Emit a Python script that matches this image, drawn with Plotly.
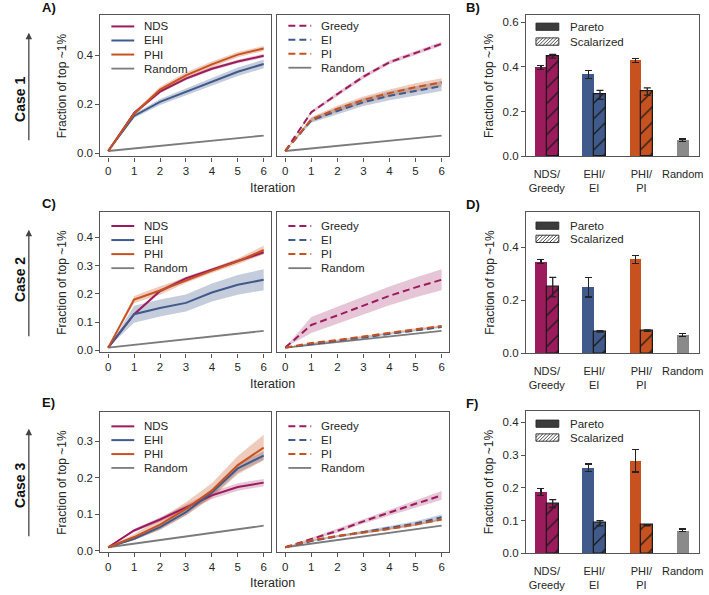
import plotly.graph_objects as go

W, H = 709, 595
def fx(x): return x / W
def fy(y): return 1 - y / H

FONT = "Liberation Sans, Arial, sans-serif"
C_NDS = '#9c1b5d'
C_EHI = '#3f5a8b'
C_PHI = '#c8521f'
C_RND = '#7b7b7b'
C_RNDBAR = '#8a8a8a'
B_NDS = 'rgba(156,27,93,0.25)'
B_EHI = 'rgba(63,90,139,0.30)'
B_PHI = 'rgba(200,82,31,0.30)'

iterations = [0, 1, 2, 3, 4, 5, 6]

# ---------------- Case 1 ----------------
c1_nds = [0.01, 0.165, 0.252, 0.305, 0.345, 0.375, 0.398]
c1_nds_err = [0, 0.006, 0.007, 0.007, 0.007, 0.007, 0.008]
c1_ehi = [0.01, 0.153, 0.21, 0.25, 0.292, 0.333, 0.365]
c1_ehi_err = [0, 0.008, 0.012, 0.014, 0.016, 0.017, 0.018]
c1_phi = [0.01, 0.162, 0.26, 0.318, 0.363, 0.403, 0.428]
c1_phi_err = [0, 0.008, 0.012, 0.013, 0.012, 0.011, 0.01]
c1_rand = [0.01, 0.021, 0.031, 0.042, 0.052, 0.063, 0.073]
c1_greedy = [0.01, 0.168, 0.242, 0.313, 0.372, 0.41, 0.447]
c1_greedy_err = [0, 0.006, 0.008, 0.008, 0.008, 0.008, 0.008]
c1_ei = [0.01, 0.135, 0.173, 0.209, 0.235, 0.256, 0.275]
c1_ei_err = [0, 0.01, 0.014, 0.016, 0.018, 0.019, 0.02]
c1_pi = [0.01, 0.139, 0.182, 0.218, 0.246, 0.27, 0.29]
c1_pi_err = [0, 0.01, 0.012, 0.014, 0.015, 0.016, 0.017]

# ---------------- Case 2 ----------------
c2_nds = [0.01, 0.128, 0.21, 0.255, 0.285, 0.317, 0.347]
c2_nds_err = [0, 0.005, 0.006, 0.006, 0.006, 0.006, 0.007]
c2_ehi = [0.01, 0.128, 0.15, 0.168, 0.205, 0.232, 0.25]
c2_ehi_err = [0, 0.03, 0.03, 0.03, 0.032, 0.035, 0.037]
c2_phi = [0.01, 0.18, 0.212, 0.248, 0.282, 0.315, 0.355]
c2_phi_err = [0, 0.012, 0.015, 0.01, 0.008, 0.01, 0.015]
c2_rand = [0.01, 0.02, 0.03, 0.04, 0.049, 0.059, 0.069]
c2_greedy = [0.01, 0.09, 0.124, 0.158, 0.193, 0.223, 0.25]
c2_greedy_err = [0, 0.028, 0.03, 0.032, 0.033, 0.035, 0.037]
c2_ei = [0.01, 0.023, 0.034, 0.046, 0.058, 0.07, 0.083]
c2_ei_err = [0, 0.002, 0.002, 0.003, 0.003, 0.003, 0.003]
c2_pi = [0.01, 0.026, 0.037, 0.05, 0.062, 0.075, 0.086]
c2_pi_err = [0, 0.002, 0.002, 0.003, 0.003, 0.003, 0.003]

# ---------------- Case 3 ----------------
c3_nds = [0.01, 0.056, 0.086, 0.119, 0.152, 0.175, 0.187]
c3_nds_err = [0, 0.004, 0.006, 0.008, 0.01, 0.01, 0.01]
c3_ehi = [0.01, 0.033, 0.065, 0.106, 0.16, 0.226, 0.261]
c3_ehi_err = [0, 0.004, 0.006, 0.008, 0.01, 0.012, 0.012]
c3_phi = [0.01, 0.038, 0.072, 0.115, 0.165, 0.235, 0.283]
c3_phi_err = [0, 0.008, 0.015, 0.018, 0.02, 0.025, 0.035]
c3_rand = [0.01, 0.02, 0.03, 0.039, 0.049, 0.059, 0.069]
c3_greedy = [0.01, 0.033, 0.055, 0.081, 0.106, 0.129, 0.152]
c3_greedy_err = [0, 0.003, 0.005, 0.006, 0.008, 0.01, 0.012]
c3_ei = [0.01, 0.027, 0.04, 0.051, 0.062, 0.075, 0.092]
c3_ei_err = [0, 0.002, 0.003, 0.004, 0.005, 0.006, 0.008]
c3_pi = [0.01, 0.029, 0.041, 0.05, 0.06, 0.072, 0.086]
c3_pi_err = [0, 0.002, 0.002, 0.003, 0.003, 0.003, 0.003]

# ---------------- Bars ----------------
bar_labels = ['NDS/<br>Greedy', 'EHI/<br>EI', 'PHI/<br>PI', 'Random']
c1_pareto = [0.397, 0.365, 0.428, 0.073]
c1_pareto_err = [0.010, 0.018, 0.009, 0.005]
c1_scal = [0.447, 0.275, 0.290]
c1_scal_err = [0.008, 0.020, 0.016]
c2_pareto = [0.347, 0.250, 0.355, 0.070]
c2_pareto_err = [0.007, 0.037, 0.015, 0.005]
c2_scal = [0.250, 0.083, 0.086]
c2_scal_err = [0.037, 0.003, 0.003]
c3_pareto = [0.187, 0.261, 0.283, 0.070]
c3_pareto_err = [0.010, 0.012, 0.035, 0.004]
c3_scal = [0.152, 0.092, 0.086]
c3_scal_err = [0.012, 0.008, 0.002]

cases = [
    dict(pareto=[c1_nds, c1_ehi, c1_phi], pareto_err=[c1_nds_err, c1_ehi_err, c1_phi_err],
         scal=[c1_greedy, c1_ei, c1_pi], scal_err=[c1_greedy_err, c1_ei_err, c1_pi_err], rand=c1_rand,
         bp=c1_pareto, bpe=c1_pareto_err, bs=c1_scal, bse=c1_scal_err,
         line_yr=[-0.012, 0.565], line_tv=[0, 0.2, 0.4], bar_yr=[0, 0.63], bar_tv=[0, 0.2, 0.4, 0.6],
         top=15, bot=158, btop=15.5, bbot=158,
         leg_l=[26.7, 40.9, 55.1, 69.3], leg_r=[26, 40.2, 54.4, 68.4], bleg=[27, 42],
         letters=[('A)', 40, 8), ('B)', 467, 8)], case='Case 1', case_y=100, arrow=(33, 142), it_y=190),
    dict(pareto=[c2_nds, c2_ehi, c2_phi], pareto_err=[c2_nds_err, c2_ehi_err, c2_phi_err],
         scal=[c2_greedy, c2_ei, c2_pi], scal_err=[c2_greedy_err, c2_ei_err, c2_pi_err], rand=c2_rand,
         bp=c2_pareto, bpe=c2_pareto_err, bs=c2_scal, bse=c2_scal_err,
         line_yr=[-0.007, 0.49], line_tv=[0, 0.1, 0.2, 0.3, 0.4], bar_yr=[0, 0.534], bar_tv=[0, 0.2, 0.4],
         top=214, bot=356, btop=214, bbot=357,
         leg_l=[228.3, 242.5, 256.7, 270.9], leg_r=[228.3, 242.5, 256.7, 270.9], bleg=[228, 241.3],
         letters=[('C)', 40, 206), ('D)', 467, 207)], case='Case 2', case_y=282, arrow=(232, 340), it_y=388),
    dict(pareto=[c3_nds, c3_ehi, c3_phi], pareto_err=[c3_nds_err, c3_ehi_err, c3_phi_err],
         scal=[c3_greedy, c3_ei, c3_pi], scal_err=[c3_greedy_err, c3_ei_err, c3_pi_err], rand=c3_rand,
         bp=c3_pareto, bpe=c3_pareto_err, bs=c3_scal, bse=c3_scal_err,
         line_yr=[-0.004, 0.381], line_tv=[0, 0.1, 0.2, 0.3], bar_yr=[0, 0.435], bar_tv=[0, 0.1, 0.2, 0.3, 0.4],
         top=416, bot=558, btop=415, bbot=559,
         leg_l=[430.7, 444.6, 458.7, 472.7], leg_r=[430.7, 444.6, 458.7, 472.7], bleg=[428, 442],
         letters=[('E)', 40, 407), ('F)', 467, 408)], case='Case 3', case_y=490, arrow=(433, 542), it_y=589),
]

pareto_names = ['NDS', 'EHI', 'PHI']
scal_names = ['Greedy', 'EI', 'PI']
line_cols = [C_NDS, C_EHI, C_PHI]
band_cols = [B_NDS, B_EHI, B_PHI]

LEFT = (101, 273)
RIGHT = (279, 452)
BAR = (529, 703)
AXC = '#555555'
TXT = '#262626'

fig = go.Figure()
layout = {}
shapes = []
annotations = []

def ax(n):
    return '' if n == 1 else str(n)

def axis_common():
    return dict(showline=True, mirror=True, linecolor=AXC, linewidth=1.2, showgrid=False,
                zeroline=False, ticks='outside', ticklen=4, tickwidth=1.1, tickcolor=AXC,
                tickfont=dict(family=FONT, size=11.5, color=TXT))

def add_band(n, y, e, col):
    up = [a + b for a, b in zip(y, e)]
    lo = [a - b for a, b in zip(y, e)]
    fig.add_trace(go.Scatter(x=iterations + iterations[::-1], y=up + lo[::-1], fill='toself',
                             fillcolor=col, line=dict(width=0), mode='lines', hoverinfo='skip',
                             showlegend=False, xaxis='x' + ax(n), yaxis='y' + ax(n)))

def add_line(n, y, col, dash='solid', width=2.0):
    fig.add_trace(go.Scatter(x=iterations, y=y, mode='lines', line=dict(color=col, width=width, dash=dash),
                             showlegend=False, xaxis='x' + ax(n), yaxis='y' + ax(n)))

DASH = '7px,4px'

for r, c in enumerate(cases):
    nl, nr, nb = 3 * r + 1, 3 * r + 2, 3 * r + 3
    # ---- line panels ----
    for n, series, errs, names, xs, legy, dash in [
        (nl, c['pareto'], c['pareto_err'], pareto_names, LEFT, c['leg_l'], 'solid'),
        (nr, c['scal'], c['scal_err'], scal_names, RIGHT, c['leg_r'], DASH)]:
        for y, e, bc in zip(series, errs, band_cols):
            add_band(n, y, e, bc)
        add_line(n, c['rand'], C_RND, width=1.8)
        for y, lc in zip(series, line_cols):
            add_line(n, y, lc, dash=dash)
        xa = axis_common()
        xa.update(domain=[fx(xs[0]), fx(xs[1])], anchor='y' + ax(n), range=[-0.3, 6.3],
                  tickvals=iterations)
        ya = axis_common()
        ya.update(domain=[fy(c['bot']), fy(c['top'])], anchor='x' + ax(n), range=c['line_yr'],
                  tickvals=c['line_tv'], tickformat='.1f')
        if n == nr:
            ya.update(ticks='', showticklabels=False)
        layout['xaxis' + ax(n)] = xa
        layout['yaxis' + ax(n)] = ya
        # legend (manual)
        for i, (lab, lc) in enumerate(zip(names + ['Random'], line_cols + [C_RND])):
            yy = legy[i]
            shapes.append(dict(type='line', xref='paper', yref='paper',
                               x0=fx(xs[0] + 11), x1=fx(xs[0] + 34), y0=fy(yy), y1=fy(yy),
                               line=dict(color=lc, width=2 if i < 3 else 1.8,
                                         dash=(dash if i < 3 else 'solid'))))
            annotations.append(dict(text=lab, x=fx(xs[0] + 42), y=fy(yy), xref='paper', yref='paper',
                                    xanchor='left', yanchor='middle', showarrow=False,
                                    font=dict(family=FONT, size=11.5, color=TXT)))
    # ---- bar panel ----
    off = 0.125
    groups = [0, 1, 2, 3]
    px_pos = [g - off for g in groups]
    sx_pos = [g + off for g in groups[:3]]
    tick_pos = groups[:3] + [groups[3] - off]
    fig.add_trace(go.Bar(x=px_pos, y=c['bp'], width=0.25,
                         marker=dict(color=[C_NDS, C_EHI, C_PHI, C_RNDBAR], line=dict(width=0)),
                         error_y=dict(type='data', array=c['bpe'], color='#222222', thickness=1.3, width=3.5),
                         showlegend=False, xaxis='x' + ax(nb), yaxis='y' + ax(nb)))
    for xv, yv, ev, col in zip(sx_pos, c['bs'], c['bse'], line_cols):
        fig.add_trace(go.Bar(x=[xv], y=[yv], width=0.25,
                             marker=dict(color=col, line=dict(width=1.3, color='#1a1a1a'),
                                         pattern=dict(shape='/', fgcolor='#1a1a1a', bgcolor=col,
                                                      fillmode='replace', fgopacity=1,
                                                      size=11, solidity=0.12)),
                             error_y=dict(type='data', array=[ev], color='#222222', thickness=1.3, width=3.5),
                             showlegend=False, xaxis='x' + ax(nb), yaxis='y' + ax(nb)))
    xa = axis_common()
    xa.update(domain=[fx(BAR[0]), fx(BAR[1])], anchor='y' + ax(nb), range=[-0.44, 3.22],
              tickvals=tick_pos, ticktext=bar_labels, ticks='', ticklabelstandoff=7,
              ticklabeloverflow='allow')
    xa['tickfont'] = dict(family=FONT, size=11, color=TXT)
    ya = axis_common()
    ya.update(domain=[fy(c['bbot']), fy(c['btop'])], anchor='x' + ax(nb), range=c['bar_yr'],
              tickvals=c['bar_tv'], tickformat='.1f')
    layout['xaxis' + ax(nb)] = xa
    layout['yaxis' + ax(nb)] = ya
    # bar legend (manual)
    by0, by1 = c['bleg']
    shapes.append(dict(type='rect', xref='paper', yref='paper', x0=fx(539), x1=fx(562),
                       y0=fy(by0 - 3.7), y1=fy(by0 + 3.7), fillcolor='#3c3c3c', line=dict(width=0.8, color='#222')))
    shapes.append(dict(type='rect', xref='paper', yref='paper', x0=fx(539), x1=fx(562),
                       y0=fy(by1 - 3.7), y1=fy(by1 + 3.7), fillcolor='white', line=dict(width=0.9, color='#222')))
    path = ''
    xs0 = 539 - 7.4
    while xs0 < 562:
        xa0, ya0 = xs0, by1 + 3.7
        xa1, ya1 = xs0 + 7.4, by1 - 3.7
        if xa0 < 539:
            ya0 = ya0 - (539 - xa0); xa0 = 539
        if xa1 > 562:
            ya1 = ya1 + (xa1 - 562); xa1 = 562
        path += f'M {fx(xa0)} {fy(ya0)} L {fx(xa1)} {fy(ya1)} '
        xs0 += 3.5
    shapes.append(dict(type='path', xref='paper', yref='paper', path=path, line=dict(width=0.8, color='#222')))
    for lab, yy in [('Pareto', by0), ('Scalarized', by1)]:
        annotations.append(dict(text=lab, x=fx(571), y=fy(yy), xref='paper', yref='paper',
                                xanchor='left', yanchor='middle', showarrow=False,
                                font=dict(family=FONT, size=11.5, color=TXT)))
    # ---- titles ----
    for xpos, (t, b) in [(62, (c['top'], c['bot'])), (492, (c['btop'], c['bbot']))]:
        annotations.append(dict(text='Fraction of top ~1%', x=fx(xpos), y=fy((t + b) / 2), xref='paper',
                                yref='paper', textangle=-90, showarrow=False, xanchor='center', yanchor='middle',
                                font=dict(family=FONT, size=12, color=TXT)))
    annotations.append(dict(text='Iteration', x=fx(274), y=fy(c['it_y']), xref='paper', yref='paper',
                            showarrow=False, xanchor='center', yanchor='middle',
                            font=dict(family=FONT, size=12.5, color=TXT)))
    for lab, lx, ly in c['letters']:
        annotations.append(dict(text='<b>' + lab + '</b>', x=fx(lx), y=fy(ly), xref='paper', yref='paper',
                                showarrow=False, xanchor='left', yanchor='middle',
                                font=dict(family=FONT, size=13, color='#111')))
    annotations.append(dict(text='<b>' + c['case'] + '</b>', x=fx(20), y=fy(c['case_y']), xref='paper',
                            yref='paper', textangle=-90, showarrow=False, xanchor='center', yanchor='middle',
                            font=dict(family=FONT, size=14, color='#111')))
    a0, a1 = c['arrow']
    annotations.append(dict(text='', x=fx(29), y=fy(a0), xref='paper', yref='paper', showarrow=True,
                            ax=0, ay=a1 - a0, arrowhead=2, arrowsize=1, arrowwidth=1.3, arrowcolor='#444'))

fig.update_layout(width=W, height=H, margin=dict(l=0, r=0, t=0, b=0), paper_bgcolor='white',
                  plot_bgcolor='white', showlegend=False, barmode='overlay', bargap=0,
                  shapes=shapes, annotations=annotations, **layout)
fig.write_html('out.html', config={'displayModeBar': False},
               post_script="document.body.style.margin='0px';document.body.style.overflow='hidden';")
